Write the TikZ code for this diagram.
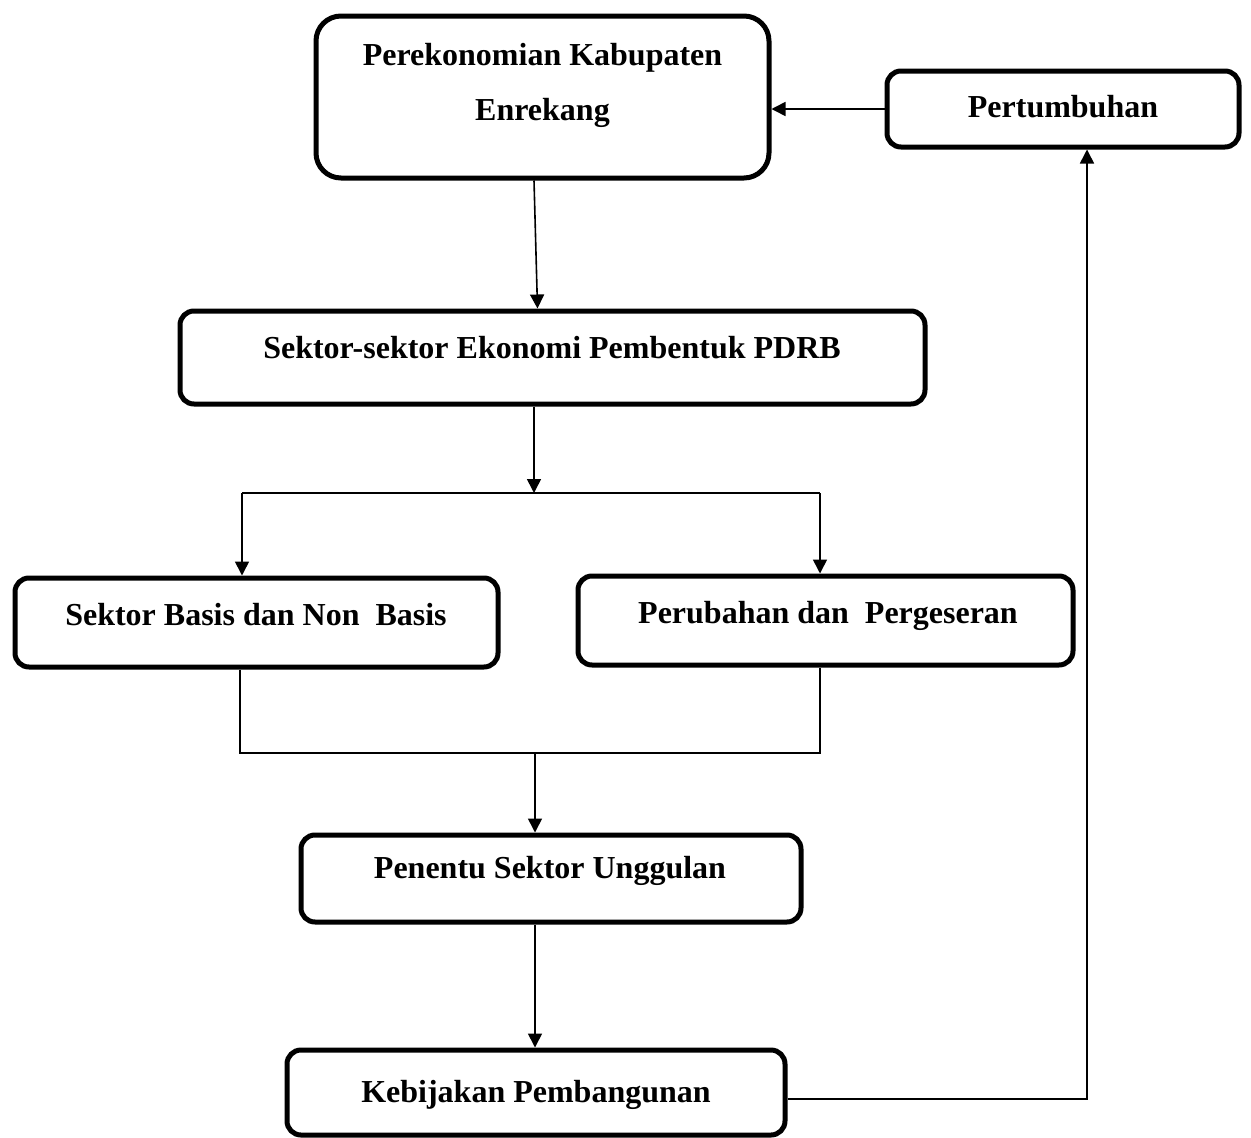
\documentclass[tikz,border=0pt]{standalone}
\usepackage{fontspec}
\setmainfont{Liberation Serif}
\usetikzlibrary{arrows.meta}
\begin{document}
\begin{tikzpicture}[x=1pt,y=-1pt,
  box/.style={draw, line width=5pt, rounded corners=14pt, inner sep=0pt},
  lbl/.style={anchor=base, inner sep=0pt, font=\fontsize{32}{40}\selectfont\bfseries},
  conn/.style={line width=1.6pt},
  arr/.style={conn, -{Triangle[length=14pt,width=14pt]}}]
\useasboundingbox (0,0) rectangle (1251,1138);
% boxes
\node[box, rounded corners=25pt, minimum width=453pt, minimum height=162pt] (b1) at (542.5,97) {};
\node[box, minimum width=352pt, minimum height=76pt] (b2) at (1063,109) {};
\node[box, minimum width=745pt, minimum height=93pt] (b3) at (552.5,357.5) {};
\node[box, minimum width=483pt, minimum height=89pt] (b4) at (256.5,622.5) {};
\node[box, minimum width=495pt, minimum height=89pt] (b5) at (825.5,620.5) {};
\node[box, minimum width=500pt, minimum height=87pt] (b6) at (551,878.5) {};
\node[box, minimum width=498pt, minimum height=85pt] (b7) at (536,1092.5) {};
% labels
\node[lbl] (t1a) at (542.5,65) {Perekonomian Kabupaten};
\node[lbl] (t1b) at (542.5,120) {Enrekang};
\node[lbl] (t2) at (1063,117) {Pertumbuhan};
\node[lbl] (t3) at (552,358) {Sektor-sektor Ekonomi Pembentuk PDRB};
\node[lbl] (t4) at (256,625) {Sektor Basis dan Non~ Basis};
\node[lbl] (t5) at (828,623) {Perubahan dan~ Pergeseran};
\node[lbl] (t6) at (550,878) {Penentu Sektor Unggulan};
\node[lbl] (t7) at (536,1102) {Kebijakan Pembangunan};
% connectors
\draw[arr] ([xshift=-8.5pt]b1.south) -- ([xshift=-15pt]b3.north);
\draw[arr] (b2.west) -- (b1.east |- b2.west);
\coordinate (ja) at (534,493);
\coordinate (jl) at (242,493);
\coordinate (jr) at (820,493);
\draw[arr] (b3.south -| ja) -- (ja);
\draw[conn] (jl) -- (jr);
\draw[arr] (jl) -- (jl |- b4.north);
\draw[arr] (jr) -- (jr |- b5.north);
\coordinate (kl) at (240,753);
\coordinate (kr) at (820,753);
\coordinate (km) at (535,753);
\draw[conn] (kl |- b4.south) -- (kl) -- (kr) -- (kr |- b5.south);
\draw[arr] (km) -- (km |- b6.north);
\draw[arr] (km |- b6.south) -- (km |- b7.north);
\coordinate (fb) at (1087,1099);
\draw[arr] (b7.east |- fb) -- (fb) -- (fb |- b2.south);
\end{tikzpicture}
\end{document}
